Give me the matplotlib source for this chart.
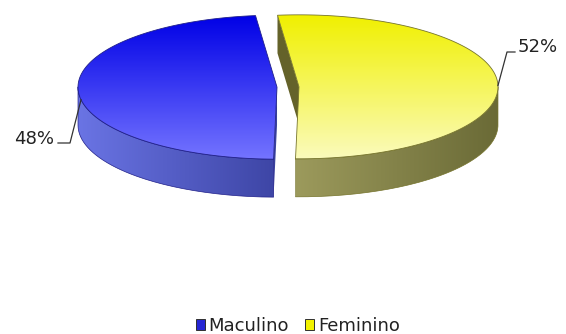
import numpy as np
import matplotlib
matplotlib.use('Agg')
import matplotlib.pyplot as plt
from matplotlib.patches import Polygon, Patch
from matplotlib.colors import to_rgb

plt.rcParams['font.family'] = ['DejaVu Sans']

# dados
labels = ['Maculino', 'Feminino']
values = [48, 52]
pct_labels = ['48%', '52%']

# geometria da pizza 3D (em pixels da figura)
CX, CY = 288, 87
RX, RY = 199, 72
DEPTH = 38
EXPLODE = 11
START = 96.2

top_cols = [('#0000e6', '#7474ff'), ('#f0f000', '#fbfbbc')]
side_cols = [('#6a74e4', '#3e46a6'), ('#9c9a5c', '#6a6a36')]
wall_cols = ['#3a429c', '#64622a']
edge_cols = ['#20208a', '#76742c']
legend_cols = ['#2626d4', '#f2f200']

# posicao dos rotulos e angulo do ponto na borda
label_pos = [(54, 139, 'right'), (518, 47, 'left')]
leader_knee = [[(58, 143), (70, 143)], [(515, 52), (507, 52)]]
leader_angle = [190, 1]

fig = plt.figure(figsize=(5.66, 3.34), dpi=100)
ax = fig.add_axes([0, 0, 1, 1])


def rim(cx, cy, phi, dz=0.0):
    r = np.radians(phi)
    return cx + RX * np.cos(r), cy - RY * np.sin(r) + dz


def grad_fill(verts, c0, c1, horizontal=False, z=1):
    verts = np.asarray(verts)
    poly = Polygon(verts, closed=True, facecolor='none', edgecolor='none')
    ax.add_patch(poly)
    x0, y0 = verts.min(0)
    x1, y1 = verts.max(0)
    c0 = np.array(to_rgb(c0))
    c1 = np.array(to_rgb(c1))
    t = np.linspace(0, 1, 256)[:, None]
    cols = c0 + (c1 - c0) * t
    img = cols[None, :, :] if horizontal else cols[:, None, :]
    im = ax.imshow(img, extent=(x0, x1, y1, y0), origin='upper',
                   aspect='auto', interpolation='bilinear', zorder=z)
    im.set_clip_path(poly)
    return poly


total = float(sum(values))
s = START
for i, v in enumerate(values):
    e = s + 360.0 * v / total
    mid = np.radians((s + e) / 2)
    ccx = CX + EXPLODE * np.cos(mid)
    ccy = CY - EXPLODE * np.sin(mid) * RY / RX

    # paredes do corte (so as voltadas para frente)
    for ang, nrm in ((s, s - 90), (e, e + 90)):
        if np.sin(np.radians(nrm)) < 0:
            px, py = rim(ccx, ccy, ang)
            quad = [(ccx, ccy), (px, py), (px, py + DEPTH), (ccx, ccy + DEPTH)]
            ax.add_patch(Polygon(quad, closed=True, facecolor=wall_cols[i],
                                 edgecolor='none', zorder=1))

    # lateral externa
    for k in (0, 360):
        lo, hi = max(s, 180 + k), min(e, 360 + k)
        if hi <= lo:
            continue
        ph = np.linspace(lo, hi, 80)
        top = [rim(ccx, ccy, p) for p in ph]
        bot = [rim(ccx, ccy, p, DEPTH) for p in ph[::-1]]
        grad_fill(top + bot, side_cols[i][0], side_cols[i][1], horizontal=True, z=2)
        ax.plot(*zip(*(top + bot + [top[0]])), color=edge_cols[i], lw=0.5, zorder=3)

    # tampa
    ph = np.linspace(s, e, 160)
    face = [(ccx, ccy)] + [rim(ccx, ccy, p) for p in ph]
    grad_fill(face, top_cols[i][0], top_cols[i][1], z=4)
    ax.add_patch(Polygon(face, closed=True, facecolor='none',
                         edgecolor=edge_cols[i], lw=0.6, zorder=5))

    # rotulo com linha guia
    lx, ly, ha = label_pos[i]
    ax.text(lx, ly, pct_labels[i], ha=ha, va='center', fontsize=13,
            color='#222222', zorder=6)
    ex, ey = rim(ccx, ccy, leader_angle[i])
    pts = leader_knee[i] + [(ex, ey)]
    ax.plot(*zip(*pts), color='#333333', lw=0.9, zorder=6)

    s = e

handles = [Patch(facecolor=legend_cols[i], edgecolor='#303030', lw=0.7)
           for i in range(len(labels))]
ax.legend(handles, labels, loc='center', bbox_to_anchor=(298 / 566, 1 - 326 / 334),
          ncol=2, frameon=False, fontsize=13, handlelength=0.5,
          handleheight=0.5, handletextpad=0.2, columnspacing=0.9,
          labelcolor='#222222', borderpad=0, borderaxespad=0)

ax.set_xlim(0, 566)
ax.set_ylim(334, 0)
ax.axis('off')

fig.savefig('out.png', dpi=100)
